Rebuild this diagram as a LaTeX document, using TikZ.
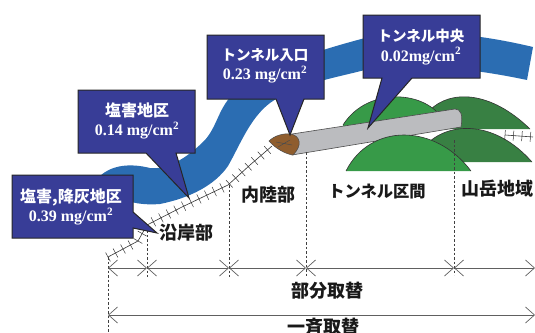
\documentclass[tikz,border=0pt]{standalone}
\usepackage{fontspec}
\setmainfont{Liberation Serif}
\newfontfamily\jpfont{Noto Sans CJK JP}
\usepackage{xcolor}
\usetikzlibrary{
    arrows.meta,
    decorations.pathreplacing
}
\definecolor{riverblue}{HTML}{2B6DB2}
\definecolor{calloutblue}{HTML}{383D97}
\definecolor{hilllight}{HTML}{379A48}
\definecolor{hilldark}{HTML}{388043}
\definecolor{tunnelgray}{HTML}{BBBCBF}
\definecolor{portalbrown}{HTML}{8F5D2E}
\definecolor{dimgray}{HTML}{606060}

\begin{document}
\begin{tikzpicture}[x=1pt,y=-1pt,>={Straight Barb[length=9pt,width=16pt]},semithick]
	\tikzstyle{callout}=[draw=black!85, fill=calloutblue, line width=1pt, line join=miter]
	\tikzstyle{calltext}=[text=white, align=center, font=\bfseries\fontsize{16}{19.5}\selectfont, inner sep=0pt]
	\tikzstyle{zone}=[font=\jpfont\bfseries\fontsize{18}{20}\selectfont, text=black!90, inner sep=0pt]
	\tikzstyle{hill}=[draw=black!80, line width=0.6pt]
	\tikzstyle{guide}=[dashed, dash pattern=on 2.5pt off 2pt, line width=0.7pt, black!75]
	\tikzstyle{dim}=[<->, draw=dimgray, line width=0.7pt]
	\tikzstyle{ground}=[draw=black!80, line width=0.6pt, postaction={draw=black!80, line width=0.5pt, decorate, decoration={ticks, segment length=8.5pt, amplitude=5pt}}]
	\clip (0, 0) rectangle (535, 332);

	% river
	\fill [riverblue] (100, 176) .. controls (112, 165) and (130, 163) .. (150, 168)
		.. controls (170, 170) and (190, 155) .. (205, 140)
		.. controls (218, 125) and (218, 108) .. (235, 92)
		.. controls (270, 65) and (320, 50) .. (365, 38)
		.. controls (410, 28) and (470, 32) .. (533, 47)
		-- (527, 80)
		.. controls (470, 68) and (410, 62) .. (365, 70)
		.. controls (325, 80) and (295, 85) .. (270, 103)
		.. controls (250, 118) and (240, 145) .. (228, 166)
		.. controls (215, 185) and (190, 198) .. (160, 204)
		.. controls (135, 206) and (110, 200) .. (100, 176) -- cycle;

	% hills behind the tunnel
	\fill [hilldark] (430, 110) .. controls (450, 90) and (490, 90) .. (530, 129) -- (430, 129) -- cycle;
	\draw [hill] (430, 110) .. controls (450, 90) and (490, 90) .. (530, 129);
	\fill [hilllight] (343, 125) .. controls (365, 90) and (415, 90) .. (437, 112) -- (437, 130) -- (343, 130) -- cycle;
	\draw [hill] (343, 125) .. controls (365, 90) and (415, 90) .. (437, 112);

	% tunnel tube and portal
	\draw [fill=tunnelgray, draw=black!70, line width=0.6pt] (292, 134) -- (455, 109)
		.. controls (461, 109) and (463, 115) .. (461, 127) -- (292, 155) -- cycle;
	\draw [fill=portalbrown, draw=black!70, line width=0.5pt] (269, 141)
		.. controls (275, 135) and (285, 133) .. (291, 134)
		.. controls (300, 136) and (303, 145) .. (293, 155)
		.. controls (285, 154) and (275, 148) .. (269, 141) -- cycle;
	\draw [black!70, line width=0.5pt] (276, 142) -- (292, 145) (278, 147) -- (290, 140);

	% hills in front of the tunnel
	\fill [hilldark] (428, 143) .. controls (450, 122) and (495, 120) .. (532, 162) -- (428, 162) -- cycle;
	\draw [hill] (428, 143) .. controls (450, 122) and (495, 120) .. (532, 162);
	\fill [hilllight] (346, 171) .. controls (370, 123) and (435, 123) .. (471, 171) -- cycle;
	\draw [hill] (346, 171) .. controls (370, 123) and (435, 123) .. (471, 171);

	% ground line along the coast
	\draw [ground] (108, 257) -- (138, 241) -- (147, 225) -- (182, 207) -- (228, 185)
		-- (250, 165) -- (272, 146);
	\draw [ground] (505, 135) -- (533, 137);

	% named points on the dimension lines
	\coordinate (P0) at (108, 268);
	\coordinate (P1) at (147, 268);
	\coordinate (P2) at (229, 268);
	\coordinate (P3) at (306, 268);
	\coordinate (P4) at (454, 268);
	\coordinate (P5) at (535, 268);
	\coordinate (Q0) at (108, 315);
	\coordinate (Q1) at (535, 315);

	\draw [guide] (108, 257) -- (108, 332);
	\draw [guide] (147, 230) -- (147, 277);
	\draw [guide] (229, 185) -- (229, 277);
	\draw [guide] (306, 152) -- (306, 277);
	\draw [guide] (454, 140) -- (454, 275);

	\draw [dim] (P0) -- (P1);
	\draw [dim] (P1) -- (P2);
	\draw [dim] (P2) -- (P3);
	\draw [dim] (P3) -- (P4);
	\draw [dim] (P4) -- (P5);
	\draw [dim] (Q0) -- (Q1);

	% callouts
	\draw [callout] (12, 175) -- (133, 175) -- (133, 212) -- (157, 233) -- (133, 228) -- (133, 238) -- (12, 238) -- cycle;
	\node [calltext] (ash) at (71, 207) {{\jpfont 塩害,降灰地区}\\0.39 mg/cm\textsuperscript{2}};
	\draw [callout] (78, 90) -- (195, 90) -- (195, 153) -- (176, 153) -- (189, 198) -- (146, 153) -- (78, 153) -- cycle;
	\node [calltext] (salt) at (137, 121) {{\jpfont 塩害地区}\\0.14 mg/cm\textsuperscript{2}};
	\draw [callout] (207, 35) -- (324, 35) -- (324, 99) -- (304, 99) -- (290, 135) -- (276, 99) -- (207, 99) -- cycle;
	\node [calltext] (entry) at (265, 66) {{\jpfont\fontsize{14.5}{19.5}\selectfont トンネル入口}\\0.23 mg/cm\textsuperscript{2}};
	\draw [callout] (363, 15) -- (480, 15) -- (480, 78) -- (412, 78) -- (368, 128) -- (382, 78) -- (363, 78) -- cycle;
	\node [calltext] (center) at (421, 47) {{\jpfont\fontsize{14.5}{19.5}\selectfont トンネル中央}\\0.02mg/cm\textsuperscript{2}};

	% zone names
	\node [zone] (coast) at (186, 233) {沿岸部};
	\node [zone] (inland) at (268, 195) {内陸部};
	\node [zone, font=\jpfont\bfseries\fontsize{16.3}{20}\selectfont] (tunnel) at (377, 192) {トンネル区間};
	\node [zone] (mountain) at (497, 189) {山岳地域};
	\node [zone] (partial) at (327, 291) {部分取替};
	\node [zone] (whole) at (323, 327) {一斉取替};
\end{tikzpicture}
\end{document}
